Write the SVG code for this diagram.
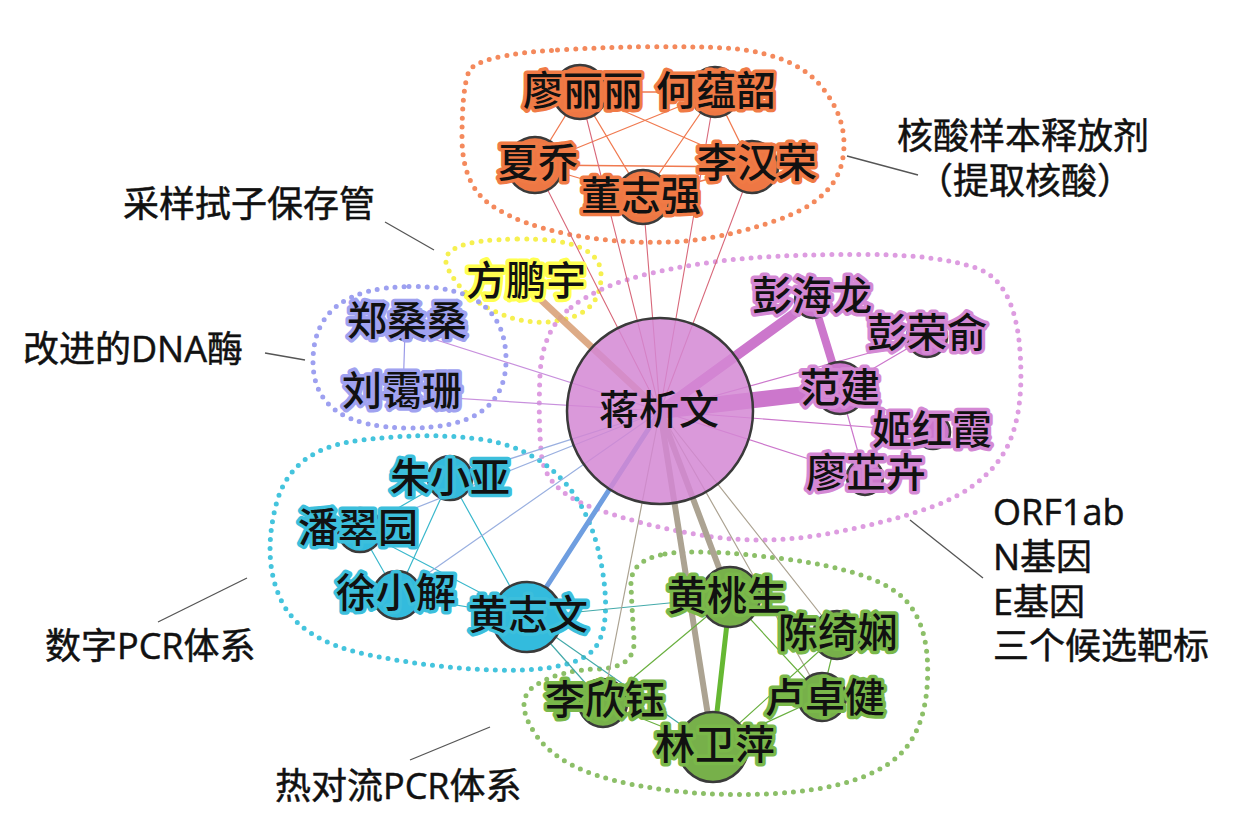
<svg xmlns="http://www.w3.org/2000/svg" width="1246" height="833" viewBox="0 0 1246 833">
<style>
.hull{fill:none;stroke-width:5;stroke-dasharray:0 9;stroke-linecap:round}
.e{fill:none;stroke-linecap:round}
.n{stroke:#3a3a3a;stroke-width:2.5}
.lbl{font-family:"Noto Sans CJK SC","Noto Sans",sans-serif;font-size:40px;text-anchor:middle;fill:#111;stroke-width:7;paint-order:stroke;stroke-linejoin:round;font-weight:500}
.ann{font-family:"Open Sans","Noto Sans CJK SC",sans-serif;font-size:36px;fill:#111;stroke:#111;stroke-width:0.5}
.lead{stroke:#555;stroke-width:1.3}
.or{stroke:#f07a45}.pu{stroke:#d488d4}.cy{stroke:#3cbfdc}.gr{stroke:#7ab84a}.la{stroke:#a0a2f0}.ye{stroke:#ffff50}
</style>
<rect width="1246" height="833" fill="#fff"/>
<g id="clusters">
<path class="hull" stroke="#f4895c" d="M 557.5,50 Q 640,45 715,47.5 Q 790,50 820,85 Q 850,120 842.5,160 Q 835,200 777.5,220 Q 720,240 670,242 Q 620,244 570,234.5 Q 520,225 491,205 Q 462,185 462,137.5 Q 462,90 468.5,72.5 Q 475,55 557.5,50 Z"/>
<path class="hull" stroke="#f6f050" d="M 517.5,239 Q 600,238 601,274 Q 602,310 566,319 Q 530,328 495,311.5 Q 460,295 447.5,267.5 Q 435,240 517.5,239 Z"/>
<path class="hull" stroke="#9da0f0" d="M 409,286.5 Q 505,285 506,358.5 Q 507,428 410,428 Q 313,428 313,361.5 Q 313,288 409,286.5 Z"/>
<path class="hull" stroke="#dd9ce0" d="M 571,307.5 Q 600,285 650,273.5 Q 700,262 750,258 Q 800,254 870,254.5 Q 940,255 977.5,268.5 Q 1015,282 1020,351 Q 1025,420 1002.5,455 Q 980,490 930,507.5 Q 880,525 820,535 Q 760,545 700,535 Q 640,525 592.5,507.5 Q 545,490 541.5,455 Q 538,420 540,375 Q 542,330 571,307.5 Z"/>
<path class="hull" stroke="#44c4dd" d="M 355,441 Q 420,432 475,438.5 Q 530,445 562.5,480 Q 595,515 603.5,577.5 Q 612,640 586,656 Q 560,672 495,670 Q 430,668 365,654 Q 300,640 281,600 Q 262,560 276,505 Q 290,450 355,441 Z"/>
<path class="hull" stroke="#8cbf68" d="M 665,554 Q 700,548 785,559 Q 870,570 900,595 Q 930,620 927.5,680 Q 925,740 887.5,764.5 Q 850,789 775,793.5 Q 700,798 630,784 Q 560,770 536,735 Q 512,700 536,685 Q 560,670 598,669 Q 636,668 634,639 Q 632,610 631,585 Q 630,560 665,554 Z"/>
</g>
<g id="connectors">
<g class="e" stroke="#f07a50" stroke-width="1.3">
<line x1="580" y1="92" x2="715" y2="92"/><line x1="580" y1="92" x2="535" y2="165"/><line x1="580" y1="92" x2="643" y2="197"/><line x1="580" y1="92" x2="752" y2="167"/>
<line x1="715" y1="92" x2="535" y2="165"/><line x1="715" y1="92" x2="643" y2="197"/><line x1="715" y1="92" x2="752" y2="167"/>
<line x1="535" y1="165" x2="752" y2="167"/><line x1="535" y1="165" x2="643" y2="197"/><line x1="643" y1="197" x2="752" y2="167"/>
</g>
<g class="e" stroke="#d8687a" stroke-width="1.1">
<line x1="535" y1="165" x2="660" y2="411"/><line x1="580" y1="92" x2="660" y2="411"/><line x1="643" y1="197" x2="660" y2="411"/><line x1="715" y1="92" x2="660" y2="411"/><line x1="752" y1="167" x2="660" y2="411"/>
</g>
<line class="e" x1="524" y1="284" x2="660" y2="411" stroke="#d9a27a" stroke-width="7" stroke-opacity="0.9"/>
<g class="e" stroke-width="1.2">
<line x1="405" y1="330" x2="403" y2="395" stroke="#9a9ae8"/>
<line x1="405" y1="330" x2="660" y2="411" stroke="#c890dd"/>
<line x1="403" y1="395" x2="660" y2="411" stroke="#c890dd"/>
</g>
<g class="e" stroke="#cc77cc">
<line x1="660" y1="411" x2="813" y2="300" stroke-width="10"/>
<line x1="660" y1="411" x2="840" y2="390" stroke-width="16"/>
<line x1="813" y1="300" x2="840" y2="388" stroke-width="8"/>
<line x1="660" y1="411" x2="927" y2="337" stroke-width="1.2"/><line x1="840" y1="388" x2="927" y2="337" stroke-width="1.2"/>
<line x1="660" y1="411" x2="933" y2="432" stroke-width="1.2"/><line x1="840" y1="388" x2="933" y2="432" stroke-width="1.2"/>
<line x1="660" y1="411" x2="865" y2="477" stroke-width="1.2"/><line x1="840" y1="388" x2="865" y2="477" stroke-width="1.2"/>
</g>
<g class="e" stroke="#3ab8cc" stroke-width="1.2">
<line x1="450" y1="478" x2="360" y2="530"/><line x1="450" y1="478" x2="397" y2="595"/><line x1="450" y1="478" x2="527" y2="617"/>
<line x1="360" y1="530" x2="397" y2="595"/><line x1="360" y1="530" x2="527" y2="617"/><line x1="397" y1="595" x2="527" y2="617"/>
</g>
<g class="e" stroke="#9ab0e0" stroke-width="1.2">
<line x1="450" y1="478" x2="660" y2="411"/><line x1="360" y1="530" x2="660" y2="411"/><line x1="397" y1="595" x2="660" y2="411"/>
</g>
<line class="e" x1="527" y1="617" x2="660" y2="411" stroke="#6f9ee0" stroke-width="5"/>
<g class="e" stroke="#44aaaa" stroke-width="1.2">
<line x1="527" y1="617" x2="730" y2="597"/><line x1="527" y1="617" x2="603" y2="703"/><line x1="527" y1="617" x2="713" y2="747"/>
</g>
<g class="e" stroke="#aca392">
<line x1="660" y1="411" x2="730" y2="597" stroke-width="6"/><line x1="660" y1="411" x2="713" y2="747" stroke-width="6"/>
<line x1="660" y1="411" x2="603" y2="703" stroke-width="1.2"/><line x1="660" y1="411" x2="822" y2="697" stroke-width="1.2"/><line x1="660" y1="411" x2="837" y2="635" stroke-width="1.2"/>
</g>
<line class="e" x1="730" y1="597" x2="713" y2="747" stroke="#66b833" stroke-width="5"/>
<g class="e" stroke="#6ab040" stroke-width="1.2">
<line x1="730" y1="597" x2="603" y2="703"/><line x1="730" y1="597" x2="822" y2="697"/><line x1="837" y1="635" x2="822" y2="697"/>
<line x1="837" y1="635" x2="713" y2="747"/><line x1="822" y1="697" x2="713" y2="747"/><line x1="603" y1="703" x2="713" y2="747"/>
</g>
</g>
<g id="n-liaolili"><circle class="n" cx="580" cy="92" r="27" fill="#ee7744"/><text class="lbl or" x="583" y="105">廖丽丽</text></g>
<g id="n-heyunshao"><circle class="n" cx="715" cy="92" r="25" fill="#ee7744"/><text class="lbl or" x="716" y="105">何蕴韶</text></g>
<g id="n-xiaqiao"><circle class="n" cx="535" cy="165" r="28" fill="#ee7744"/><text class="lbl or" x="538" y="177">夏乔</text></g>
<g id="n-lihanrong"><circle class="n" cx="752" cy="167" r="26" fill="#ee7744"/><text class="lbl or" x="757" y="177">李汉荣</text></g>
<g id="n-dongzhiqiang"><circle class="n" cx="643" cy="197" r="27" fill="#ee7744"/><text class="lbl or" x="641" y="210">董志强</text></g>
<g id="n-fangpengyu"><circle class="n" cx="527" cy="282" r="10" fill="#f6f050"/><text class="lbl ye" x="526" y="295">方鹏宇</text></g>
<g id="n-zhengsangsang"><circle class="n" cx="405" cy="330" r="10" fill="#9da0f0"/><text class="lbl la" x="407" y="335">郑桑桑</text></g>
<g id="n-liuaishan"><circle class="n" cx="403" cy="395" r="10" fill="#9da0f0"/><text class="lbl la" x="402" y="405">刘霭珊</text></g>
<g id="n-jiangxiwen"><circle class="n" cx="660" cy="411" r="93" fill="#d487d4" fill-opacity="0.85"/><text class="lbl" x="659" y="424" stroke="none">蒋析文</text></g>
<g id="n-penghailong"><circle class="n" cx="813" cy="300" r="18" fill="#cc77cc"/><text class="lbl pu" x="812" y="310">彭海龙</text></g>
<g id="n-pengrongyu"><circle class="n" cx="927" cy="337" r="20" fill="#cc77cc"/><text class="lbl pu" x="927" y="347">彭荣俞</text></g>
<g id="n-fanjian"><circle class="n" cx="840" cy="388" r="26" fill="#cc77cc"/><text class="lbl pu" x="840" y="402">范建</text></g>
<g id="n-jihongxia"><circle class="n" cx="933" cy="432" r="17" fill="#cc77cc"/><text class="lbl pu" x="932" y="444">姬红霞</text></g>
<g id="n-liaozhihui"><circle class="n" cx="865" cy="477" r="18" fill="#cc77cc"/><text class="lbl pu" x="866" y="487">廖芷卉</text></g>
<g id="n-zhuxiaoya"><circle class="n" cx="450" cy="478" r="22" fill="#33bbdd"/><text class="lbl cy" x="450" y="492">朱小亚</text></g>
<g id="n-pancuiyuan"><circle class="n" cx="360" cy="530" r="22" fill="#33bbdd"/><text class="lbl cy" x="358" y="542">潘翠园</text></g>
<g id="n-xuxiaojie"><circle class="n" cx="397" cy="595" r="24" fill="#33bbdd"/><text class="lbl cy" x="396" y="607">徐小解</text></g>
<g id="n-huangzhiwen"><circle class="n" cx="527" cy="617" r="35" fill="#33bbdd"/><text class="lbl cy" x="528" y="629">黄志文</text></g>
<g id="n-huangtaosheng"><circle class="n" cx="730" cy="597" r="30" fill="#77b04a"/><text class="lbl gr" x="727" y="610">黄桃生</text></g>
<g id="n-chenqixian"><circle class="n" cx="837" cy="635" r="24" fill="#77b04a"/><text class="lbl gr" x="838" y="647">陈绮娴</text></g>
<g id="n-luzhuojian"><circle class="n" cx="822" cy="697" r="24" fill="#77b04a"/><text class="lbl gr" x="825" y="712">卢卓健</text></g>
<g id="n-lixinyu"><circle class="n" cx="603" cy="703" r="24" fill="#77b04a"/><text class="lbl gr" x="605" y="714">李欣钰</text></g>
<g id="n-linweiping"><circle class="n" cx="713" cy="747" r="35" fill="#77b04a"/><text class="lbl gr" x="715" y="759">林卫萍</text></g>
<g id="annotations">
<line class="lead" x1="385" y1="222" x2="434" y2="250"/>
<text class="ann" x="123" y="217">采样拭子保存管</text>
<line class="lead" x1="265" y1="353" x2="305" y2="360"/>
<text class="ann" x="23" y="362">改进的DNA酶</text>
<line class="lead" x1="847" y1="156" x2="918" y2="175"/>
<text class="ann" x="1023" y="149" text-anchor="middle">核酸样本释放剂</text>
<text class="ann" x="1025" y="194" text-anchor="middle">（提取核酸）</text>
<line class="lead" x1="910" y1="520" x2="983" y2="578"/>
<text class="ann" x="993" y="525">ORF1ab</text>
<text class="ann" x="993" y="570">N基因</text>
<text class="ann" x="993" y="615">E基因</text>
<text class="ann" x="993" y="659">三个候选靶标</text>
<line class="lead" x1="158" y1="622" x2="247" y2="578"/>
<text class="ann" x="45" y="659">数字PCR体系</text>
<line class="lead" x1="410" y1="760" x2="490" y2="727"/>
<text class="ann" x="275" y="799">热对流PCR体系</text>
</g>
</svg>
